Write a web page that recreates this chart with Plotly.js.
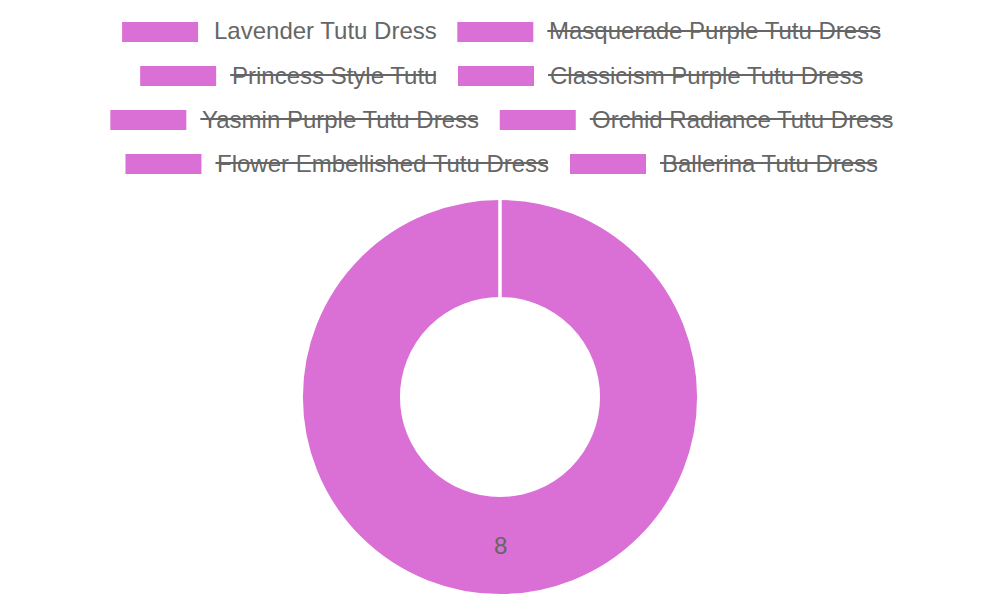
<!DOCTYPE html>
<html>
<head>
<meta charset="utf-8">
<script src="https://cdn.plot.ly/plotly-3.0.1.min.js"></script>
<style>html,body{margin:0;padding:0;background:#fff;}#chart{width:1000px;height:600px;}</style>
</head>
<body>
<div id="chart"></div>
<script>
// ---- data ----
var labels = ["Lavender Tutu Dress", "Masquerade Purple Tutu Dress", "Princess Style Tutu", "Classicism Purple Tutu Dress", "Yasmin Purple Tutu Dress", "Orchid Radiance Tutu Dress", "Flower Embellished Tutu Dress", "Ballerina Tutu Dress"];
var values = [8, null, null, null, null, null, null, null];
var hidden = [false, true, true, true, true, true, true, true];
var sliceColor = "#DA70D6";

// ---- layout constants (pixels) ----
var W = 1000, H = 600;
var FONT = "Liberation Sans, Arial, sans-serif";
var FS = 24, TXT = "#666666";
var boxW = 76, boxH = 20, textGap = 14, itemGap = 22;
var rowY0 = 32, rowStep = 44, maxRowW = 1000;
var cx = 500, cy = 397, R = 198, holeFrac = 0.5;

var ctx = document.createElement("canvas").getContext("2d");
ctx.font = FS + "px 'Liberation Sans'";
function tw(s) { return ctx.measureText(s).width; }

// wrap legend items into rows
var rows = [], cur = [], curW = 0;
labels.forEach(function (l, i) {
  var w = boxW + textGap + tw(l);
  var add = cur.length ? itemGap + w : w;
  if (cur.length && curW + add > maxRowW) { rows.push({items: cur, w: curW}); cur = []; curW = 0; add = w; }
  cur.push({i: i, w: w, t: tw(l)}); curW += add;
});
if (cur.length) rows.push({items: cur, w: curW});

function px(x) { return x / W; }
function py(y) { return 1 - y / H; }

var shapes = [], annotations = [];
rows.forEach(function (row, r) {
  var y = rowY0 + r * rowStep;
  var x = (W - row.w) / 2 + 1;
  row.items.forEach(function (it) {
    shapes.push({type: "rect", xref: "paper", yref: "paper",
      x0: px(x), x1: px(x + boxW), y0: py(y - boxH / 2), y1: py(y + boxH / 2),
      fillcolor: sliceColor, line: {width: 0}, layer: "above"});
    var tx = x + boxW + textGap;
    annotations.push({xref: "paper", yref: "paper", x: px(tx), y: py(y - 1), xanchor: "left", yanchor: "middle",
      text: labels[it.i], showarrow: false, font: {family: FONT, size: FS, color: TXT}});
    if (hidden[it.i]) {
      shapes.push({type: "line", xref: "paper", yref: "paper",
        x0: px(tx), x1: px(tx + it.t), y0: py(y - 1), y1: py(y - 1),
        line: {color: TXT, width: 2}, layer: "above"});
    }
    x += it.w + itemGap;
  });
});

var visLabels = [], visValues = [];
labels.forEach(function (l, i) { if (!hidden[i] && values[i] != null) { visLabels.push(l); visValues.push(values[i]); } });

// white seam at slice start (top), like a bordered single arc
shapes.push({type: "line", xref: "paper", yref: "paper",
  x0: px(cx), x1: px(cx), y0: py(cy - R - 1), y1: py(cy - R * holeFrac + 1),
  line: {color: "#ffffff", width: 3.5}, layer: "above"});

// value label at the mid-angle of the ring (bottom)
var midR = R * (1 + holeFrac) / 2;
annotations.push({xref: "paper", yref: "paper", x: px(cx), y: py(cy + midR), xanchor: "center", yanchor: "middle",
  text: String(visValues[0]), showarrow: false, font: {family: FONT, size: FS, color: TXT}});

var trace = {
  type: "pie", labels: visLabels, values: visValues, hole: holeFrac, sort: false, direction: "clockwise", rotation: 0,
  marker: {colors: [sliceColor], line: {color: "#ffffff", width: 2}},
  textinfo: "none", hoverinfo: "label+value", showlegend: false,
  domain: {x: [px(cx - R), px(cx + R)], y: [py(cy + R), py(cy - R)]}
};

var layout = {
  width: W, height: H, margin: {l: 0, r: 0, t: 0, b: 0},
  paper_bgcolor: "#ffffff", plot_bgcolor: "#ffffff",
  showlegend: false, shapes: shapes, annotations: annotations,
  font: {family: FONT}
};
Plotly.newPlot("chart", [trace], layout, {displayModeBar: false, staticPlot: true});
</script>
</body>
</html>
